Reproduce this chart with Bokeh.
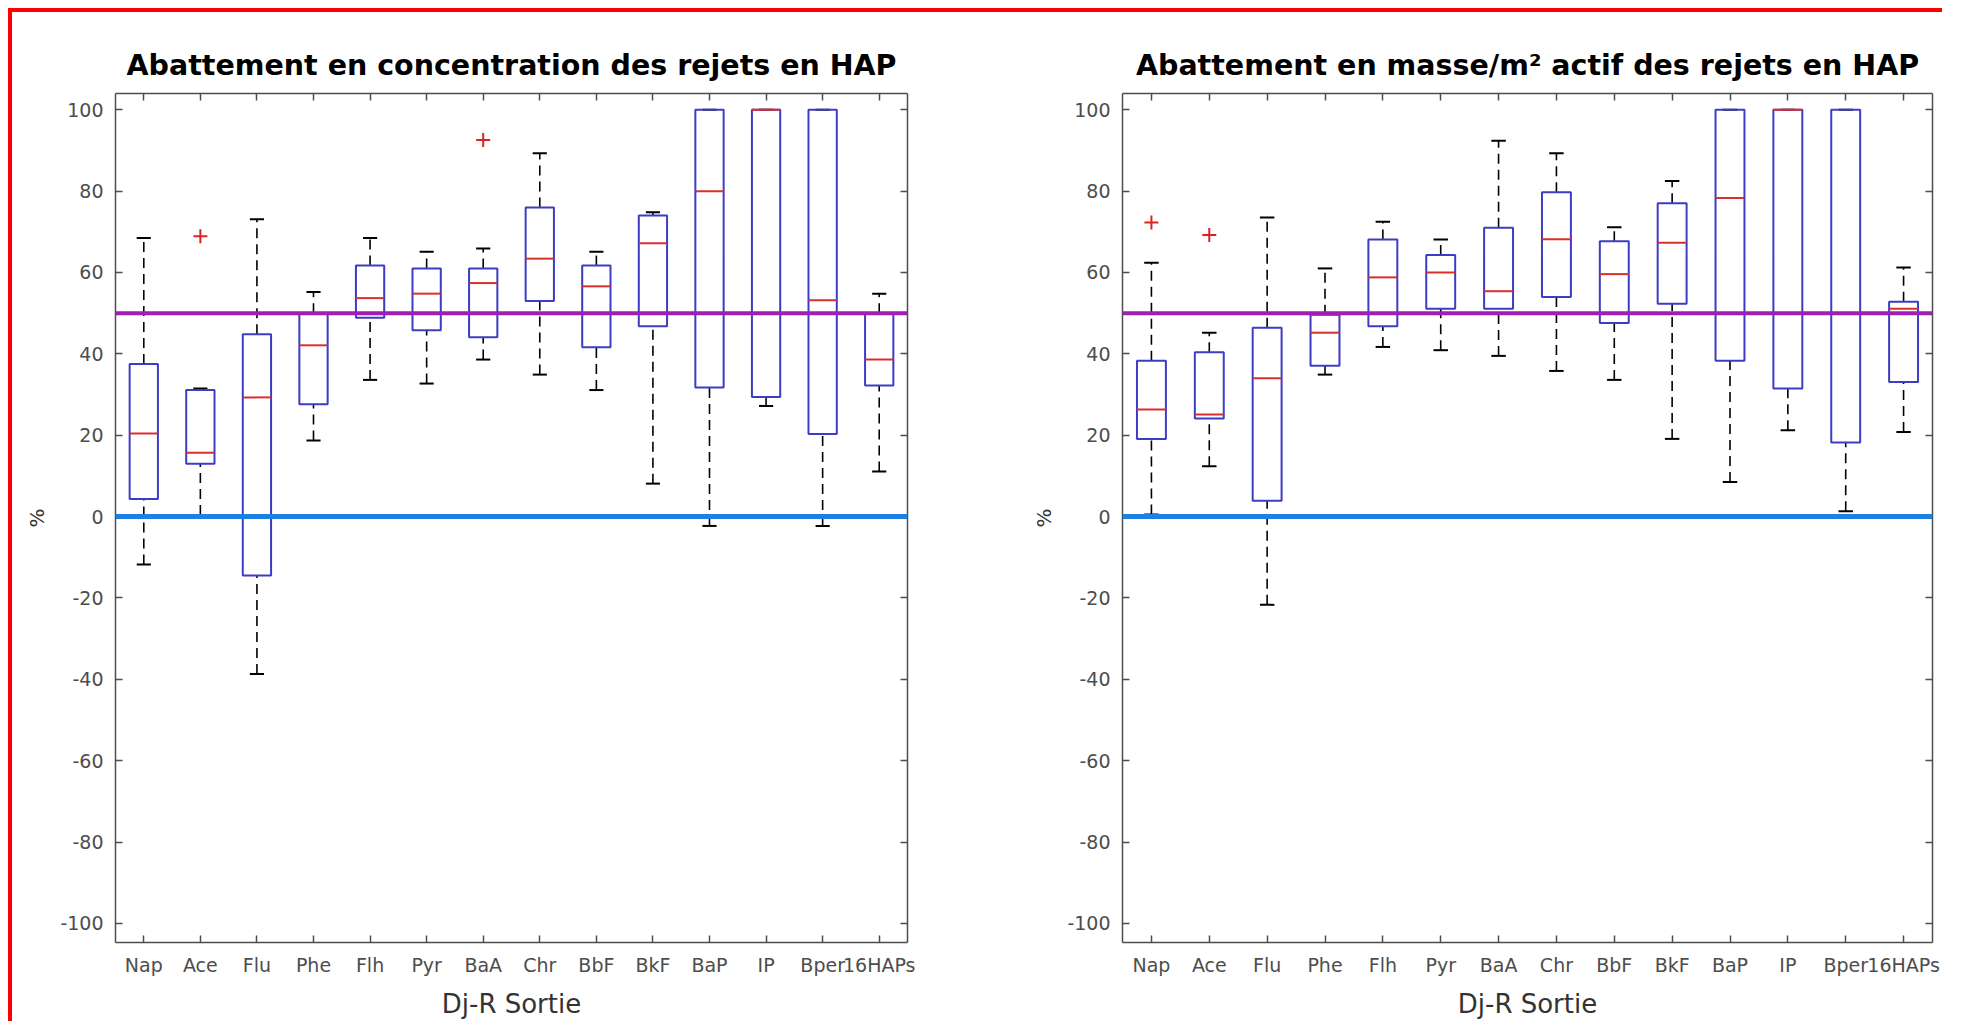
import numpy as np
from bokeh.plotting import figure
from bokeh.models import LinearAxis, FixedTicker, Span, Range1d, ColumnDataSource
from bokeh.layouts import row
from bokeh.embed import file_html
from bokeh.resources import INLINE

categories = ["Nap", "Ace", "Flu", "Phe", "Flh", "Pyr", "BaA", "Chr", "BbF", "BkF", "BaP", "IP", "Bper", "16HAPs"]
y_ticks = [-100, -80, -60, -40, -20, 0, 20, 40, 60, 80, 100]

# Left panel: abattement en concentration (%)
conc_q1 = [4.3, 13.0, -14.5, 27.6, 48.9, 45.8, 44.1, 53.0, 41.6, 46.8, 31.7, 29.4, 20.3, 32.2]
conc_med = [20.4, 15.7, 29.3, 42.1, 53.7, 54.8, 57.4, 63.4, 56.6, 67.2, 80.0, 100.0, 53.2, 38.6]
conc_q3 = [37.5, 31.1, 44.8, 50.0, 61.7, 61.0, 61.0, 76.0, 61.7, 74.0, 100.0, 100.0, 100.0, 50.0]
conc_lo = [-11.8, 0.4, -38.7, 18.7, 33.6, 32.7, 38.6, 34.9, 31.1, 8.1, -2.3, 27.2, -2.3, 11.1]
conc_hi = [68.5, 31.5, 73.1, 55.2, 68.5, 65.1, 65.9, 89.3, 65.1, 74.8, 100.0, 100.0, 100.0, 54.8]
conc_out_cat = ["Ace", "BaA"]
conc_out_val = [68.9, 92.6]

# Right panel: abattement en masse/m² actif (%)
mass_q1 = [19.1, 24.1, 3.9, 37.1, 46.8, 51.1, 51.1, 54.0, 47.6, 52.3, 38.3, 31.5, 18.2, 33.1]
mass_med = [26.3, 25.1, 34.0, 45.2, 58.8, 60.0, 55.4, 68.2, 59.6, 67.3, 78.3, 100.0, float("nan"), 51.1]
mass_q3 = [38.3, 40.4, 46.4, 49.6, 68.1, 64.3, 71.0, 79.7, 67.7, 77.0, 100.0, 100.0, 100.0, 52.8]
mass_lo = [0.5, 12.4, -21.7, 34.9, 41.7, 40.9, 39.5, 35.8, 33.6, 19.1, 8.5, 21.2, 1.3, 20.8]
mass_hi = [62.4, 45.2, 73.5, 61.0, 72.5, 68.1, 92.4, 89.3, 71.1, 82.5, 100.0, 100.0, 100.0, 61.2]
mass_out_cat = ["Nap", "Ace"]
mass_out_val = [72.3, 69.2]

FONT = "DejaVu Sans"
AXIS_COLOR = "#4d4d4d"
BOX_COLOR = "#3C3CC4"
MED_COLOR = "#D9302C"


def make_plot(title, q1, med, q3, lo, hi, out_cat, out_val, frame_w, bl, br):
    xs = np.arange(1, len(categories) + 1, dtype=float)
    p = figure(output_backend="svg", toolbar_location=None,
               frame_width=frame_w, frame_height=849,
               x_range=Range1d(0.5, 14.5), y_range=Range1d(-104.7, 104.0),
               min_border_left=bl, min_border_right=br,
               min_border_top=81, min_border_bottom=76,
               background_fill_color="white", border_fill_color="white")
    p.grid.visible = False
    p.outline_line_color = None

    p.title.text = title
    p.title.align = "center"
    p.title.text_font = FONT
    p.title.text_font_style = "bold"
    p.title.text_font_size = "28.5px"
    p.title.text_color = "black"
    p.title.standoff = 23

    src = ColumnDataSource(dict(
        x=xs, left=xs - 0.25, right=xs + 0.25, cl=xs - 0.125, cr=xs + 0.125,
        q1=q1, med=med, q3=q3, lo=lo, hi=hi))

    # whiskers
    p.segment(x0="x", x1="x", y0="q3", y1="hi", source=src, line_color="black", line_width=1.6, line_dash="10 6")
    p.segment(x0="x", x1="x", y0="lo", y1="q1", source=src, line_color="black", line_width=1.6, line_dash="10 6")
    # caps
    p.segment(x0="cl", x1="cr", y0="hi", y1="hi", source=src, line_color="black", line_width=2)
    p.segment(x0="cl", x1="cr", y0="lo", y1="lo", source=src, line_color="black", line_width=2)
    # boxes
    p.quad(left="left", right="right", bottom="q1", top="q3", source=src,
           fill_color=None, line_color=BOX_COLOR, line_width=2)
    # medians
    p.segment(x0="left", x1="right", y0="med", y1="med", source=src, line_color=MED_COLOR, line_width=2)
    # outliers
    ox = [categories.index(c) + 1 for c in out_cat]
    p.scatter(ox, out_val, marker="cross", size=14, line_color="#E02020", line_width=2)

    # reference lines (drawn over the boxes)
    p.add_layout(Span(location=50, dimension="width", line_color="#A21DB6", line_width=4))
    p.add_layout(Span(location=0, dimension="width", line_color="#1E80E2", line_width=5))

    labels = {i + 1: c for i, c in enumerate(categories)}
    p.xaxis.ticker = FixedTicker(ticks=list(xs))
    p.xaxis.major_label_overrides = labels
    p.yaxis.ticker = FixedTicker(ticks=y_ticks)
    p.yaxis.major_label_overrides = {t: str(t) for t in y_ticks}
    p.xaxis.axis_label = "Dj-R Sortie"
    p.yaxis.axis_label = "%"

    for ax in (p.xaxis[0], p.yaxis[0]):
        ax.axis_line_color = AXIS_COLOR
        ax.axis_line_width = 1.5
        ax.major_tick_line_color = AXIS_COLOR
        ax.major_tick_line_width = 1.5
        ax.major_tick_in = 7
        ax.major_tick_out = 0
        ax.minor_tick_line_color = None
        ax.major_label_text_font = FONT
        ax.major_label_text_font_size = "19px"
        ax.major_label_text_color = AXIS_COLOR
        ax.axis_label_text_font = FONT
        ax.axis_label_text_font_style = "normal"
        ax.axis_label_text_color = "#333333"
    p.xaxis.major_label_standoff = 11
    p.yaxis.major_label_standoff = 12
    p.xaxis.axis_label_text_font_size = "26px"
    p.xaxis.axis_label_standoff = 10
    p.yaxis.axis_label_text_font_size = "20px"
    p.yaxis.axis_label_standoff = 8

    # box: right and top axes with inward ticks, labels not drawn
    for ticks, side in ((y_ticks, "right"), (list(xs), "above")):
        ax = LinearAxis(ticker=FixedTicker(ticks=ticks), major_label_text_color=None,
                        major_label_standoff=0, major_tick_in=7, major_tick_out=0,
                        minor_tick_line_color=None, axis_line_color=AXIS_COLOR, axis_line_width=1.5,
                        major_tick_line_color=AXIS_COLOR, major_tick_line_width=1.5)
        p.add_layout(ax, side)
    return p


p1 = make_plot("Abattement en concentration des rejets en HAP",
               conc_q1, conc_med, conc_q3, conc_lo, conc_hi, conc_out_cat, conc_out_val,
               frame_w=792, bl=103, br=107)
p2 = make_plot("Abattement en masse/m² actif des rejets en HAP",
               mass_q1, mass_med, mass_q3, mass_lo, mass_hi, mass_out_cat, mass_out_val,
               frame_w=810, bl=108, br=10)

layout = row(p1, p2, styles={"border-top": "4px solid red", "border-left": "4px solid red",
                             "background-color": "white", "margin-top": "8px", "margin-left": "8px"})

open("out.html", "w").write(file_html(layout, INLINE))
